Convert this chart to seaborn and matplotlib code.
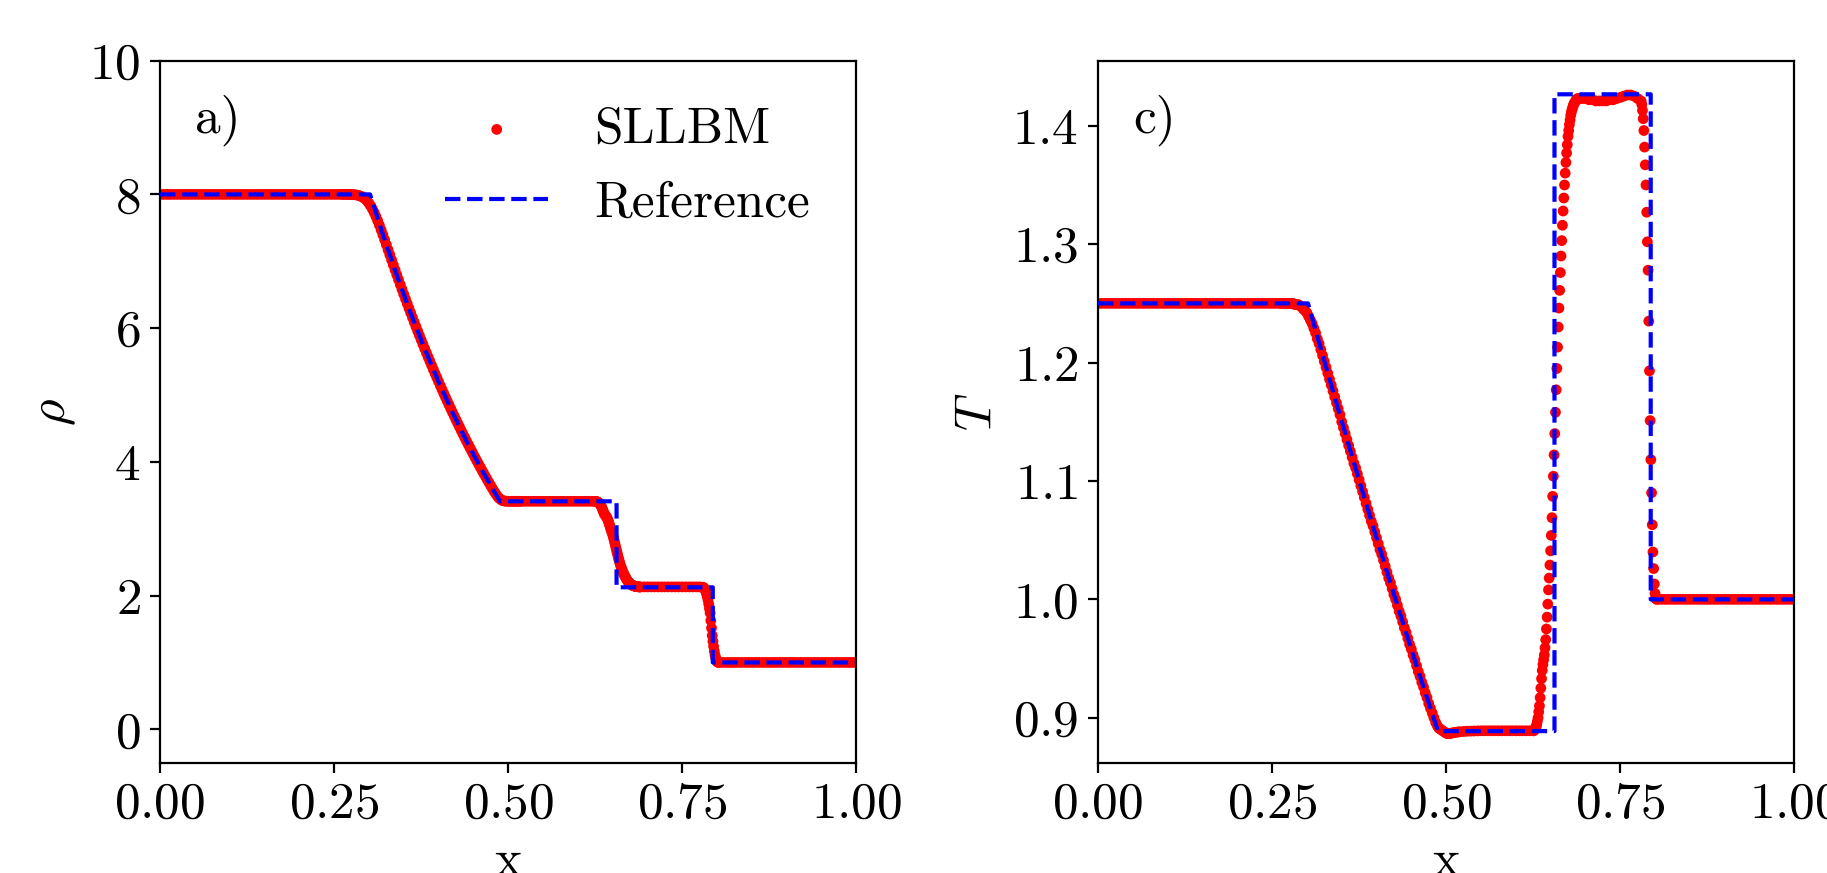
"""
Shock tube test: SLLBM density and temperature against the reference solution.
"""
import matplotlib
matplotlib.use('Agg')
import matplotlib.pyplot as plt
import seaborn as sns

FS = 18.5
plt.rcParams.update({
    'font.family': 'cmr10',
    'mathtext.fontset': 'cm',
    'axes.formatter.use_mathtext': True,
    'axes.unicode_minus': False,
    'font.size': FS,
})

# ---- SLLBM samples ----
x_sllbm = [
    0.000, 0.005, 0.010, 0.015, 0.020, 0.025, 0.030, 0.035, 0.040, 0.045, 0.050, 0.055, 0.060,
    0.065, 0.070, 0.075, 0.080, 0.085, 0.090, 0.095, 0.100, 0.105, 0.110, 0.115, 0.120, 0.125,
    0.130, 0.135, 0.140, 0.145, 0.150, 0.155, 0.160, 0.165, 0.170, 0.175, 0.180, 0.185, 0.190,
    0.195, 0.200, 0.205, 0.210, 0.215, 0.220, 0.225, 0.230, 0.235, 0.240, 0.245, 0.250, 0.255,
    0.2600, 0.2625, 0.2650, 0.2675, 0.2700, 0.2725, 0.2750, 0.2775, 0.2800, 0.2825, 0.2850, 0.2875, 0.2900,
    0.2925, 0.2950, 0.2975, 0.3000, 0.3025, 0.3050, 0.3075, 0.3100, 0.3125, 0.3150, 0.3175, 0.3200, 0.3225,
    0.3250, 0.3275, 0.3300, 0.3325, 0.3350, 0.3375, 0.3400, 0.3425, 0.3450, 0.3475, 0.3500, 0.3525, 0.3550,
    0.3575, 0.3600, 0.3625, 0.3650, 0.3675, 0.3700, 0.3725, 0.3750, 0.3775, 0.3800, 0.3825, 0.3850, 0.3875,
    0.3900, 0.3925, 0.3950, 0.3975, 0.4000, 0.4025, 0.4050, 0.4075, 0.4100, 0.4125, 0.4150, 0.4175, 0.4200,
    0.4225, 0.4250, 0.4275, 0.4300, 0.4325, 0.4350, 0.4375, 0.4400, 0.4425, 0.4450, 0.4475, 0.4500, 0.4525,
    0.4550, 0.4575, 0.4600, 0.4625, 0.4650, 0.4675, 0.4700, 0.4725, 0.4750, 0.4775, 0.4800, 0.4825, 0.4850,
    0.4875, 0.4900, 0.4925, 0.4950, 0.4975, 0.5000, 0.5025, 0.5050, 0.5075, 0.5100, 0.5125, 0.5150, 0.5175,
    0.520, 0.525, 0.530, 0.535, 0.540, 0.545, 0.550, 0.555, 0.560, 0.565, 0.570,
    0.575, 0.580, 0.585, 0.590, 0.595, 0.600, 0.605, 0.610, 0.615, 0.620,
    0.625, 0.626, 0.627, 0.628, 0.629, 0.630, 0.631, 0.632, 0.633, 0.634, 0.635,
    0.636, 0.637, 0.638, 0.639, 0.640, 0.641, 0.642, 0.643, 0.644, 0.645, 0.646,
    0.647, 0.648, 0.649, 0.650, 0.651, 0.652, 0.653, 0.654, 0.655, 0.656, 0.657,
    0.658, 0.659, 0.660, 0.661, 0.662, 0.663, 0.664, 0.665, 0.666, 0.667, 0.668,
    0.669, 0.670, 0.671, 0.672, 0.673, 0.674, 0.675, 0.676, 0.677, 0.678, 0.679,
    0.680, 0.681, 0.682, 0.683, 0.684, 0.685, 0.686, 0.687, 0.688, 0.689, 0.690,
    0.695, 0.700, 0.705, 0.710, 0.715, 0.720, 0.725, 0.730, 0.735, 0.740, 0.745, 0.750,
    0.755, 0.760, 0.765, 0.770, 0.775,
    0.780, 0.781, 0.782, 0.783, 0.784, 0.785, 0.786, 0.787, 0.788, 0.789, 0.790, 0.791,
    0.792, 0.793, 0.794, 0.795, 0.796, 0.797, 0.798, 0.799, 0.800, 0.801, 0.802,
    0.805, 0.810, 0.815, 0.820, 0.825, 0.830, 0.835, 0.840, 0.845, 0.850,
    0.855, 0.860, 0.865, 0.870, 0.875, 0.880, 0.885, 0.890, 0.895, 0.900,
    0.905, 0.910, 0.915, 0.920, 0.925, 0.930, 0.935, 0.940, 0.945, 0.950,
    0.955, 0.960, 0.965, 0.970, 0.975, 0.980, 0.985, 0.990, 0.995, 1.000,
]

rho_sllbm = [
    8.0, 8.0, 8.0, 8.0, 8.0, 8.0, 8.0, 8.0, 8.0, 8.0, 8.0, 8.0, 8.0,
    8.0, 8.0, 8.0, 8.0, 8.0, 8.0, 8.0, 8.0, 8.0, 8.0, 8.0, 8.0, 8.0,
    8.0, 8.0, 8.0, 8.0, 8.0, 8.0, 8.0, 8.0, 8.0, 8.0, 8.0, 8.0, 8.0,
    8.0, 8.0, 8.0, 8.0, 8.0, 8.0, 8.0, 8.0, 8.0, 8.0, 8.0, 8.0, 8.0,
    8.000, 8.000, 8.000, 8.000, 7.999, 7.999, 7.998, 7.997, 7.994, 7.991, 7.985, 7.976, 7.965,
    7.949, 7.928, 7.901, 7.867, 7.828, 7.781, 7.729, 7.670, 7.607, 7.540, 7.469, 7.396, 7.322,
    7.247, 7.171, 7.096, 7.020, 6.945, 6.871, 6.797, 6.723, 6.651, 6.579, 6.507, 6.436, 6.366,
    6.296, 6.227, 6.158, 6.090, 6.023, 5.956, 5.890, 5.824, 5.759, 5.695, 5.631, 5.567, 5.505,
    5.443, 5.381, 5.320, 5.260, 5.200, 5.140, 5.081, 5.023, 4.965, 4.908, 4.852, 4.795, 4.740,
    4.685, 4.630, 4.576, 4.523, 4.469, 4.417, 4.365, 4.313, 4.262, 4.212, 4.162, 4.112, 4.063,
    4.014, 3.966, 3.918, 3.871, 3.824, 3.778, 3.732, 3.687, 3.642, 3.598, 3.555, 3.515, 3.479,
    3.451, 3.431, 3.419, 3.413, 3.411, 3.410, 3.410, 3.410, 3.410, 3.410, 3.410, 3.410, 3.410,
    3.41, 3.41, 3.41, 3.41, 3.41, 3.41, 3.41, 3.41, 3.41, 3.41, 3.41,
    3.41, 3.41, 3.41, 3.41, 3.41, 3.41, 3.41, 3.41, 3.41, 3.41,
    3.408, 3.408, 3.404, 3.401, 3.397, 3.389, 3.378, 3.367, 3.348, 3.330, 3.304,
    3.276, 3.248, 3.223, 3.206, 3.193, 3.179, 3.160, 3.137, 3.108, 3.076, 3.042,
    3.006, 2.976, 2.945, 2.911, 2.875, 2.834, 2.787, 2.745, 2.701, 2.658, 2.617,
    2.574, 2.536, 2.498, 2.463, 2.432, 2.403, 2.375, 2.349, 2.325, 2.302, 2.282,
    2.263, 2.244, 2.228, 2.213, 2.200, 2.189, 2.178, 2.170, 2.163, 2.157, 2.150,
    2.146, 2.143, 2.140, 2.137, 2.135, 2.134, 2.132, 2.131, 2.131, 2.129, 2.129,
    2.13, 2.13, 2.13, 2.13, 2.13, 2.13, 2.13, 2.13, 2.13, 2.13, 2.13, 2.13,
    2.13, 2.13, 2.13, 2.13, 2.13,
    2.124, 2.116, 2.102, 2.084, 2.057, 2.020, 1.980, 1.934, 1.873, 1.806, 1.742, 1.627,
    1.515, 1.403, 1.315, 1.240, 1.168, 1.107, 1.069, 1.035, 1.013, 1.003, 1.000,
    1.0, 1.0, 1.0, 1.0, 1.0, 1.0, 1.0, 1.0, 1.0, 1.0,
    1.0, 1.0, 1.0, 1.0, 1.0, 1.0, 1.0, 1.0, 1.0, 1.0,
    1.0, 1.0, 1.0, 1.0, 1.0, 1.0, 1.0, 1.0, 1.0, 1.0,
    1.0, 1.0, 1.0, 1.0, 1.0, 1.0, 1.0, 1.0, 1.0, 1.0,
]

t_sllbm = [
    1.25, 1.25, 1.25, 1.25, 1.25, 1.25, 1.25, 1.25, 1.25, 1.25, 1.25, 1.25, 1.25,
    1.25, 1.25, 1.25, 1.25, 1.25, 1.25, 1.25, 1.25, 1.25, 1.25, 1.25, 1.25, 1.25,
    1.25, 1.25, 1.25, 1.25, 1.25, 1.25, 1.25, 1.25, 1.25, 1.25, 1.25, 1.25, 1.25,
    1.25, 1.25, 1.25, 1.25, 1.25, 1.25, 1.25, 1.25, 1.25, 1.25, 1.25, 1.25, 1.25,
    1.250, 1.250, 1.250, 1.250, 1.250, 1.250, 1.250, 1.250, 1.250, 1.249, 1.249, 1.249, 1.248,
    1.247, 1.245, 1.244, 1.242, 1.239, 1.236, 1.233, 1.229, 1.225, 1.220, 1.216, 1.211, 1.206,
    1.201, 1.196, 1.191, 1.186, 1.181, 1.176, 1.171, 1.166, 1.161, 1.156, 1.150, 1.145, 1.140,
    1.135, 1.130, 1.125, 1.120, 1.115, 1.111, 1.106, 1.101, 1.096, 1.091, 1.086, 1.081, 1.076,
    1.071, 1.066, 1.062, 1.057, 1.052, 1.047, 1.042, 1.038, 1.033, 1.028, 1.023, 1.018, 1.014,
    1.009, 1.004, 1.000, 0.995, 0.990, 0.986, 0.981, 0.976, 0.972, 0.967, 0.962, 0.958, 0.953,
    0.949, 0.944, 0.939, 0.935, 0.930, 0.926, 0.921, 0.917, 0.912, 0.908, 0.904, 0.900, 0.896,
    0.893, 0.891, 0.890, 0.889, 0.888, 0.887, 0.8865, 0.8865, 0.887, 0.8873, 0.8876, 0.8878, 0.888,
    0.8882, 0.8884, 0.8886, 0.8887, 0.8888, 0.8889, 0.889, 0.889, 0.889, 0.889, 0.889,
    0.889, 0.889, 0.889, 0.889, 0.889, 0.889, 0.889, 0.889, 0.889, 0.889,
    0.889, 0.889, 0.890, 0.891, 0.892, 0.894, 0.897, 0.900, 0.905, 0.910, 0.917,
    0.925, 0.933, 0.940, 0.945, 0.949, 0.953, 0.959, 0.966, 0.975, 0.985, 0.996,
    1.008, 1.018, 1.029, 1.041, 1.054, 1.069, 1.087, 1.104, 1.122, 1.140, 1.158,
    1.177, 1.195, 1.213, 1.230, 1.246, 1.261, 1.276, 1.290, 1.303, 1.316, 1.328,
    1.339, 1.350, 1.360, 1.369, 1.377, 1.384, 1.391, 1.396, 1.401, 1.405, 1.409,
    1.412, 1.414, 1.416, 1.418, 1.419, 1.420, 1.421, 1.422, 1.422, 1.423, 1.423,
    1.423, 1.423, 1.422, 1.422, 1.421, 1.421, 1.421, 1.421, 1.422, 1.422, 1.423, 1.424,
    1.425, 1.426, 1.426, 1.425, 1.423,
    1.421, 1.418, 1.413, 1.406, 1.396, 1.382, 1.367, 1.350, 1.327, 1.302, 1.278, 1.235,
    1.193, 1.151, 1.118, 1.090, 1.063, 1.040, 1.026, 1.013, 1.005, 1.001, 1.000,
    1.0, 1.0, 1.0, 1.0, 1.0, 1.0, 1.0, 1.0, 1.0, 1.0,
    1.0, 1.0, 1.0, 1.0, 1.0, 1.0, 1.0, 1.0, 1.0, 1.0,
    1.0, 1.0, 1.0, 1.0, 1.0, 1.0, 1.0, 1.0, 1.0, 1.0,
    1.0, 1.0, 1.0, 1.0, 1.0, 1.0, 1.0, 1.0, 1.0, 1.0,
]

# ---- reference (exact) solution ----
x_ref = [0.0, 0.3016, 0.32, 0.34, 0.36, 0.38, 0.40, 0.42, 0.44, 0.46, 0.48, 0.4883,
         0.6556, 0.6556, 0.7938, 0.7938, 1.0]
rho_ref = [8.0, 8.0, 7.401, 6.790, 6.221, 5.691, 5.197, 4.738, 4.313, 3.918, 3.553, 3.410,
           3.410, 2.124, 2.124, 1.0, 1.0]
t_ref = [1.25, 1.25, 1.2117, 1.1707, 1.1304, 1.0908, 1.0519, 1.0138, 0.9763, 0.9395, 0.9035, 0.8887,
         0.8887, 1.4266, 1.4266, 1.0, 1.0]

x_ticks = [0, 0.25, 0.5, 0.75, 1.0]
rho_ticks = [0, 2, 4, 6, 8, 10]
t_ticks = [0.9, 1.0, 1.1, 1.2, 1.3, 1.4]

fig, axes = plt.subplots(1, 2, figsize=(9.135, 4.365), dpi=200)
fig.subplots_adjust(left=0.0876, right=0.9821, bottom=0.1263, top=0.9305, wspace=0.347)

panels = [(axes[0], rho_sllbm, rho_ref, r'$\rho$', 'a)', (-0.5, 10), rho_ticks),
          (axes[1], t_sllbm, t_ref, r'$T$', 'c)', (0.862, 1.455), t_ticks)]

for ax, ys, yr, lab, tag, ylim, yt in panels:
    sns.scatterplot(x=x_sllbm, y=ys, color='red', s=15, linewidth=0, edgecolor='none',
                    ax=ax, label='SLLBM', zorder=2)
    sns.lineplot(x=x_ref, y=yr, color='blue', linestyle='--', lw=1.5, estimator=None,
                 sort=False, ax=ax, label='Reference', zorder=3)
    ax.set_xlim(0, 1)
    ax.set_ylim(*ylim)
    ax.set_xticks(x_ticks)
    ax.set_yticks(yt)
    ax.set_xlabel('x')
    ax.set_ylabel(lab)
    ax.text(0.05, 0.915, tag, transform=ax.transAxes, va='center')

axes[0].legend(frameon=False, loc='upper right', handlelength=2.0, handletextpad=0.9,
               labelspacing=0.55, fontsize=FS)
axes[1].get_legend().remove()

fig.savefig('out.png')
